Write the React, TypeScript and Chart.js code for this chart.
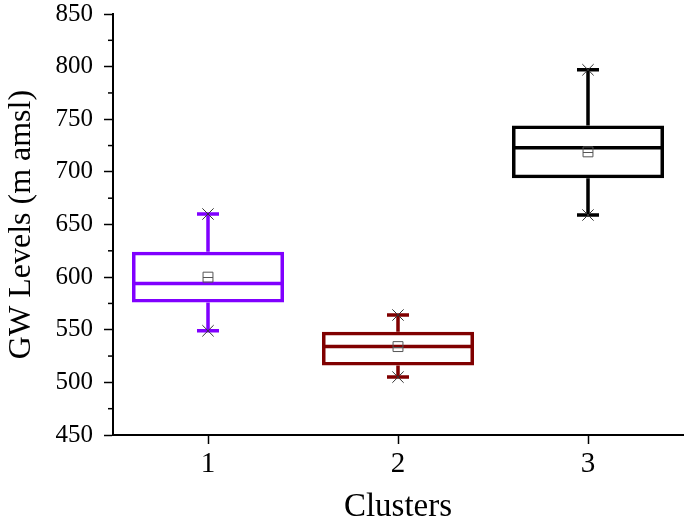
import React, { useEffect, useRef } from "react";
import { Chart, registerables } from "chart.js";

Chart.register(...registerables);

const categories = ["1", "2", "3"];
const whiskerHigh = [660, 564, 797];
const q3 = [624, 548, 744];
const median = [594, 534, 723];
const q1 = [576, 516, 694];
const whiskerLow = [549, 505, 659];
const means = [600, 534, 719];
const colors = ["#8000FF", "#800000", "#000000"];
const yTicks = [450, 500, 550, 600, 650, 700, 750, 800, 850];

const FONT = "'Liberation Serif', 'Times New Roman', serif";

const boxPlugin = {
  id: "boxExtras",
  beforeDatasetsDraw(chart: any) {
    const ctx = chart.ctx;
    const x = chart.scales.x;
    const y = chart.scales.y;
    const meta = chart.getDatasetMeta(chart.data.datasets.length - 1);
    ctx.save();
    categories.forEach((_, i) => {
      const bar = meta.data[i];
      const cx = x.getPixelForValue(i);
      const half = bar ? (bar.width as number) / 2 : 76;
      const capHalf = 11;
      ctx.strokeStyle = colors[i];
      ctx.lineWidth = 3.5;
      ctx.lineCap = "butt";
      ctx.beginPath();
      ctx.moveTo(cx, y.getPixelForValue(q3[i]));
      ctx.lineTo(cx, y.getPixelForValue(whiskerHigh[i]));
      ctx.moveTo(cx, y.getPixelForValue(q1[i]));
      ctx.lineTo(cx, y.getPixelForValue(whiskerLow[i]));
      const yh = y.getPixelForValue(whiskerHigh[i]);
      const yl = y.getPixelForValue(whiskerLow[i]);
      ctx.moveTo(cx - capHalf, yh);
      ctx.lineTo(cx + capHalf, yh);
      ctx.moveTo(cx - capHalf, yl);
      ctx.lineTo(cx + capHalf, yl);
      const ym = y.getPixelForValue(median[i]);
      ctx.moveTo(cx - half, ym);
      ctx.lineTo(cx + half, ym);
      ctx.stroke();
    });
    ctx.restore();
  },
  afterDatasetsDraw(chart: any) {
    const ctx = chart.ctx;
    const x = chart.scales.x;
    const y = chart.scales.y;
    ctx.save();
    ctx.strokeStyle = "#555";
    ctx.lineWidth = 1;
    means.forEach((m, i) => {
      const cx = x.getPixelForValue(i);
      const cy = y.getPixelForValue(m);
      ctx.beginPath();
      ctx.moveTo(cx - 5, Math.round(cy) + 0.5);
      ctx.lineTo(cx + 5, Math.round(cy) + 0.5);
      ctx.stroke();
    });
    ctx.strokeStyle = "#000";
    ctx.lineWidth = 1.5;
    const left = chart.chartArea.left;
    for (let k = 0; k < yTicks.length - 1; k++) {
      const v = (yTicks[k] + yTicks[k + 1]) / 2;
      const py = y.getPixelForValue(v);
      ctx.beginPath();
      ctx.moveTo(left, py);
      ctx.lineTo(left - 5, py);
      ctx.stroke();
    }
    ctx.restore();
  },
};

const noPad = (s: any) => {
  s.paddingTop = 0;
  s.paddingBottom = 0;
  s.paddingLeft = 0;
  s.paddingRight = 0;
};

export default function App() {
  const ref = useRef<HTMLCanvasElement>(null);
  useEffect(() => {
    document.body.style.margin = "0";
    const chart = new Chart(ref.current as HTMLCanvasElement, {
      type: "bar",
      data: {
        labels: categories,
        datasets: [
          {
            type: "line",
            label: "max",
            data: whiskerHigh,
            showLine: false,
            pointStyle: "crossRot",
            pointRadius: 8,
            borderColor: "#333",
            borderWidth: 1,
            order: 1,
          } as any,
          {
            type: "line",
            label: "min",
            data: whiskerLow,
            showLine: false,
            pointStyle: "crossRot",
            pointRadius: 8,
            borderColor: "#333",
            borderWidth: 1,
            order: 1,
          } as any,
          {
            type: "line",
            label: "mean",
            data: means,
            showLine: false,
            pointStyle: "rect",
            pointRadius: 7,
            borderColor: "#555",
            backgroundColor: "rgba(255,255,255,0)",
            borderWidth: 1,
            order: 1,
          } as any,
          {
            type: "bar",
            label: "box",
            data: q1.map((v, i) => [v, q3[i]]),
            backgroundColor: "rgba(0,0,0,0)",
            borderColor: colors,
            borderWidth: 3.5,
            borderSkipped: false,
            barPercentage: 0.8,
            categoryPercentage: 1,
            grouped: false,
            order: 3,
          } as any,
        ],
      },
      options: {
        animation: false,
        responsive: false,
        maintainAspectRatio: false,
        layout: { autoPadding: false, padding: { left: 0, right: 2, top: 14, bottom: 0 } },
        plugins: { legend: { display: false }, tooltip: { enabled: false } },
        scales: {
          x: {
            type: "category",
            offset: true,
            grid: {
              display: true,
              drawOnChartArea: false,
              drawTicks: true,
              tickLength: 9,
              tickColor: "#000",
              tickWidth: 1.5,
              offset: false,
            },
            border: { display: true, color: "#000", width: 2 },
            ticks: {
              color: "#000",
              font: { family: FONT, size: 29 },
              padding: 3,
            },
            title: {
              display: true,
              text: "Clusters",
              color: "#000",
              font: { family: FONT, size: 33 },
              padding: { top: 0, bottom: 2 },
            },
            afterFit: (s: any) => {
              s.height = 94;
              noPad(s);
            },
          },
          y: {
            type: "linear",
            min: 450,
            max: 850,
            afterBuildTicks: (s: any) => {
              s.ticks = yTicks.map((v) => ({ value: v }));
            },
            grid: {
              display: true,
              drawOnChartArea: false,
              drawTicks: true,
              tickLength: 9,
              tickColor: "#000",
              tickWidth: 1.5,
            },
            border: { display: true, color: "#000", width: 2 },
            ticks: {
              color: "#000",
              font: { family: FONT, size: 25 },
              padding: 11,
            },
            title: {
              display: true,
              text: "GW Levels (m amsl)",
              color: "#000",
              font: { family: FONT, size: 32 },
              padding: { top: 2, bottom: 0 },
            },
            afterFit: (s: any) => {
              s.width = 113;
              noPad(s);
            },
          },
        },
      },
      plugins: [boxPlugin],
    } as any);
    return () => chart.destroy();
  }, []);
  return (
    <div style={{ width: 685, height: 529 }}>
      <canvas ref={ref} width={685} height={529} style={{ width: 685, height: 529, display: "block" }} />
    </div>
  );
}
